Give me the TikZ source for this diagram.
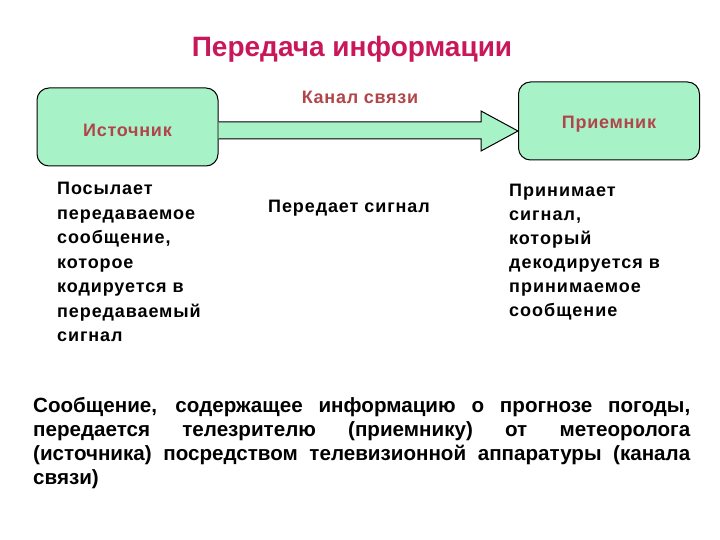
\documentclass[tikz,border=0pt]{standalone}
\usepackage{fontspec}
\setmainfont{Liberation Sans}
\definecolor{boxfill}{HTML}{A8F2C8}
\definecolor{lbl}{HTML}{B0454A}
\definecolor{ttl}{HTML}{C8185A}
\begin{document}
\begin{tikzpicture}[x=1pt,y=-1pt,
  box/.style={draw=black,line width=1pt,fill=boxfill,rounded corners=12pt,minimum width=181pt,minimum height=78pt,inner sep=0pt},
  lbltext/.style={text=lbl,font=\fontsize{18}{20}\selectfont\bfseries\addfontfeatures{LetterSpace=4}},
  body/.style={font=\fontsize{18}{24.5}\selectfont\bfseries\addfontfeatures{LetterSpace=5},align=left,inner sep=0pt,anchor=north west}]
\path[use as bounding box] (0,0) rectangle (720,540);
\node[text=ttl,font=\fontsize{28}{30}\selectfont\bfseries] (title) at (352,49) {Передача информации};
\node[box] (src) at (127.5,127) {};
\node[lbltext] at ([yshift=-3pt]src.center) {Источник};
\node[box] (dst) at (609,121) {};
\node[lbltext] at ([yshift=-3pt]dst.center) {Приемник};
\draw[line width=1pt,fill=boxfill,line join=miter] (src.east |- 0,122) -- (481,122) -- (481,111) -- (dst.west |- 0,131) -- (481,151) -- (481,139) -- (src.east |- 0,139);
\node[lbltext] (chan) at (360,97) {Канал связи};
\node[body] (t1) at (57,182) {Посылает\\передаваемое\\сообщение,\\которое\\кодируется в\\передаваемый\\сигнал};
\node[body,anchor=center] (t2) at (349,208) {Передает сигнал};
\node[body,font=\fontsize{18}{24}\selectfont\bfseries\addfontfeatures{LetterSpace=5.5}] (t3) at (509,184) {Принимает\\сигнал,\\который\\декодируется в\\принимаемое\\сообщение};
\node[inner sep=0pt,anchor=north west] (t4) at (33,397) {\parbox{657pt}{\bfseries\fontsize{20.6}{24}\selectfont\parindent=0pt\sloppy
Сообщение, содержащее информацию о прогнозе погоды,\linebreak
передается телезрителю (приемнику) от метеоролога\linebreak
(источника) посредством телевизионной аппаратуры (канала\linebreak
связи)}};
\end{tikzpicture}
\end{document}
